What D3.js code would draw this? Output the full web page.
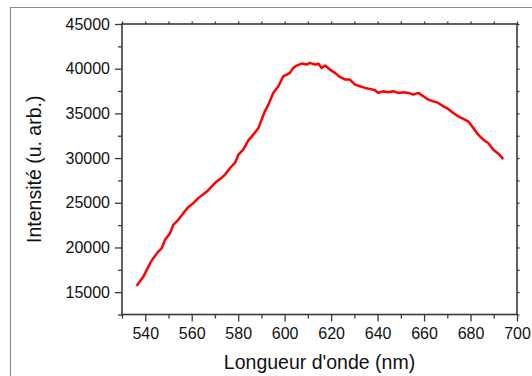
<!DOCTYPE html>
<html>
<head>
<meta charset="utf-8">
<script src="https://cdn.jsdelivr.net/npm/d3@7"></script>
<style>
  html, body { margin: 0; padding: 0; background: #fff; }
  svg { display: block; }
  text { font-family: "Liberation Sans", Arial, sans-serif; fill: #111; }
</style>
</head>
<body>
<svg id="chart" width="532" height="376"></svg>
<script>
// Emission spectrum: wavelength (nm) and intensity (arb. units)
const wavelength = [
  536.3, 539.2, 542.1, 543.5, 545.6, 547.1, 548.5, 550.7, 552.1, 554.2,
  556.4, 558.5, 560.7, 562.8, 566.5, 570.0, 572.2, 574.3, 576.5, 578.6,
  580.1, 582.2, 584.4, 586.5, 588.7, 590.1, 591.5, 593.0, 595.1, 597.3,
  599.4, 602.3, 603.7, 605.2, 607.3, 609.5, 610.9, 613.1, 614.5, 615.9,
  617.4, 619.5, 621.7, 623.8, 626.0, 628.1, 630.3, 632.4, 634.6, 636.7,
  638.9, 640.3, 642.5, 644.6, 646.8, 648.9, 651.1, 653.2, 655.4, 657.5,
  659.7, 661.8, 664.0, 666.1, 668.3, 670.4, 672.6, 674.7, 676.9, 679.0,
  681.2, 683.3, 685.5, 687.6, 689.8, 692.0, 694.1
];
const intensity = [
  15700, 16740, 18240, 18800, 19540, 19920, 20850, 21600, 22530, 23090,
  23840, 24510, 24960, 25520, 26260, 27200, 27650, 28130, 28890, 29450,
  30380, 30940, 31980, 32620, 33370, 34300, 35230, 35980, 37290, 38030,
  39150, 39530, 40090, 40350, 40570, 40460, 40650, 40460, 40570, 40090,
  40350, 39900, 39530, 39080, 38780, 38780, 38220, 38030, 37850, 37740,
  37580, 37290, 37470, 37360, 37470, 37290, 37360, 37290, 37100, 37290,
  36910, 36540, 36350, 36170, 35790, 35500, 35050, 34670, 34380, 34110,
  33370, 32620, 32060, 31690, 30940, 30490, 29890
];

const xTickValues = [540, 560, 580, 600, 620, 640, 660, 680, 700];
const yTickValues = [15000, 20000, 25000, 30000, 35000, 40000, 45000];
const xMinorValues = d3.range(530, 701, 10).filter(v => !xTickValues.includes(v));
const yMinorValues = d3.range(12500, 45001, 2500).filter(v => !yTickValues.includes(v));

const svg = d3.select("#chart");

const x = d3.scaleLinear().domain([530, 700]).range([122, 517]);
const y = d3.scaleLinear().domain([12500, 45000]).range([314.5, 24]);

// outer frame
svg.append("path")
  .attr("d", "M10.5,376 L10.5,7.5 L532,7.5")
  .attr("fill", "none")
  .attr("stroke", "#8a8a8a")
  .attr("stroke-width", 1.2);

const axisColor = "#3a3a3a";
function styleAxis(g) {
  g.select(".domain").remove();
  g.selectAll("line").attr("stroke", axisColor).attr("stroke-width", 1.3);
}

// bottom axis: major ticks with labels, minor ticks
svg.append("g")
  .attr("transform", `translate(0,${y.range()[0]})`)
  .call(d3.axisBottom(x).tickValues(xTickValues).tickSize(7).tickPadding(6.5).tickFormat(d3.format("d")))
  .call(styleAxis)
  .call(g => g.selectAll("text").attr("font-size", 16).attr("fill", "#111")
    .style("font-family", "'Liberation Sans', Arial, sans-serif"));
svg.append("g")
  .attr("transform", `translate(0,${y.range()[0]})`)
  .call(d3.axisBottom(x).tickValues(xMinorValues).tickSize(4).tickFormat(""))
  .call(styleAxis);

// left axis
svg.append("g")
  .attr("transform", `translate(${x.range()[0]},0)`)
  .call(d3.axisLeft(y).tickValues(yTickValues).tickSize(7).tickPadding(5).tickFormat(d3.format("d")))
  .call(styleAxis)
  .call(g => g.selectAll("text").attr("font-size", 16).attr("fill", "#111")
    .style("font-family", "'Liberation Sans', Arial, sans-serif"));
svg.append("g")
  .attr("transform", `translate(${x.range()[0]},0)`)
  .call(d3.axisLeft(y).tickValues(yMinorValues).tickSize(4).tickFormat(""))
  .call(styleAxis);

// top and right axes: short ticks, no labels
svg.append("g")
  .attr("transform", `translate(0,${y.range()[1]})`)
  .call(d3.axisTop(x).tickValues(d3.range(530, 701, 10)).tickSize(2.5).tickFormat(""))
  .call(styleAxis);
svg.append("g")
  .attr("transform", `translate(${x.range()[1]},0)`)
  .call(d3.axisRight(y).tickValues(d3.range(12500, 45001, 2500)).tickSize(2.5).tickFormat(""))
  .call(styleAxis);

// plot frame
svg.append("rect")
  .attr("x", x.range()[0])
  .attr("y", y.range()[1])
  .attr("width", x.range()[1] - x.range()[0])
  .attr("height", y.range()[0] - y.range()[1])
  .attr("fill", "none")
  .attr("stroke", axisColor)
  .attr("stroke-width", 1.6);

// spectrum line
const data = wavelength.map((w, i) => [w, intensity[i]]);
svg.append("path")
  .datum(data)
  .attr("fill", "none")
  .attr("stroke", "#ff0000")
  .attr("stroke-width", 2.5)
  .attr("stroke-linejoin", "round")
  .attr("d", d3.line().x(d => x(d[0])).y(d => y(d[1])));

// axis titles
svg.append("text")
  .attr("x", (x.range()[0] + x.range()[1]) / 2)
  .attr("y", 369)
  .attr("text-anchor", "middle")
  .attr("font-size", 19.5)
  .text("Longueur d'onde (nm)");

svg.append("text")
  .attr("transform", `translate(41,${(y.range()[0] + y.range()[1]) / 2}) rotate(-90)`)
  .attr("text-anchor", "middle")
  .attr("font-size", 19.5)
  .text("Intensité (u. arb.)");
</script>
</body>
</html>
